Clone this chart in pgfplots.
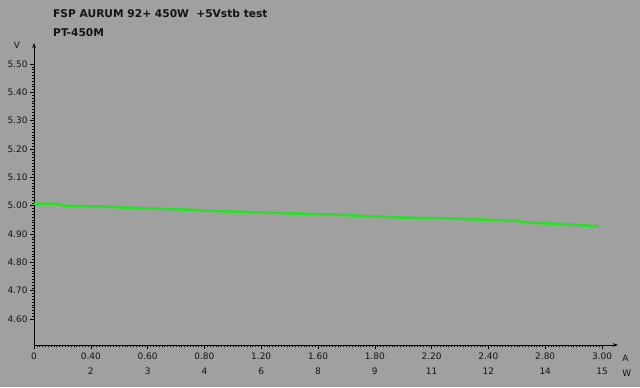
\documentclass[border=0pt]{standalone}
\usepackage{pgfplots}
\pgfplotsset{compat=1.18}
\usetikzlibrary{arrows.meta}
\usepackage{fontspec}
\setmainfont{DejaVu Sans}
\definecolor{bg}{HTML}{A0A0A0}
\definecolor{lg}{HTML}{2ADE2A}
\definecolor{tx}{HTML}{141414}
\begin{document}
\begin{tikzpicture}[x=1bp,y=1bp]
\fill[bg] (0,0) rectangle (640,387);
\useasboundingbox (0,0) rectangle (640,387);
\node[anchor=west,font=\fontsize{10.7}{12}\selectfont\bfseries,text=tx,inner sep=0] at (53,373) {FSP AURUM 92+ 450W\ \ +5Vstb test};
\node[anchor=west,font=\fontsize{10.7}{12}\selectfont\bfseries,text=tx,inner sep=0] at (53,354) {PT-450M};
\node[font=\fontsize{9}{11}\selectfont,text=tx,inner sep=0] at (17,342) {V};
\begin{axis}[
  at={(34bp,42bp)}, anchor=origin,
  scale only axis, width=584bp, height=302bp,
  xmin=0, xmax=3.0845, ymin=4.508, ymax=5.574,
  axis x line=bottom, axis y line=left,
  axis line style={black, line width=0.8pt, -{Stealth[length=5pt,width=3.5pt]}},
  xtick={0,0.3,0.6,0.9,1.2,1.5,1.8,2.1,2.4,2.7,3.0},
  xticklabels={0,{0.40\\2},{0.60\\3},{0.80\\4},{1.20\\6},{1.60\\8},{1.80\\9},{2.20\\11},{2.40\\12},{2.80\\14},{3.00\\15}},
  xticklabel style={align=center, font=\fontsize{9}{15}\selectfont, text=tx, anchor=north, yshift=0pt},
  ytick={4.6,4.7,4.8,4.9,5.0,5.1,5.2,5.3,5.4,5.5},
  yticklabels={4.60,4.70,4.80,4.90,5.00,5.10,5.20,5.30,5.40,5.50},
  yticklabel style={font=\fontsize{9}{11}\selectfont, text=tx, xshift=1pt},
  minor x tick num=19, minor y tick num=9,
  tick align=outside,
  major tick length=4bp, minor tick length=2bp,
  tick style={black, line width=0.6pt},
  minor tick style={black, line width=0.5pt},
  clip=false,
]
\addplot[lg, line width=2.6pt, line join=round] coordinates {
(0,5.007) (0.10,5.007) (0.13,5.006) (0.16,5.000) (0.30,4.998) (0.50,4.993)
(0.80,4.986) (1.00,4.980) (1.30,4.974) (1.60,4.968) (1.80,4.962) (2.00,4.957)
(2.20,4.955) (2.40,4.950) (2.55,4.946) (2.62,4.940) (2.80,4.935) (2.98,4.927)
};
\node[anchor=west,font=\fontsize{9}{11}\selectfont,text=tx,inner sep=0] at (axis cs:3.08,4.508) [xshift=5bp,yshift=-13bp] {A};
\node[anchor=west,font=\fontsize{9}{11}\selectfont,text=tx,inner sep=0] at (axis cs:3.08,4.508) [xshift=5bp,yshift=-28bp] {W};
\end{axis}
\end{tikzpicture}
\end{document}
